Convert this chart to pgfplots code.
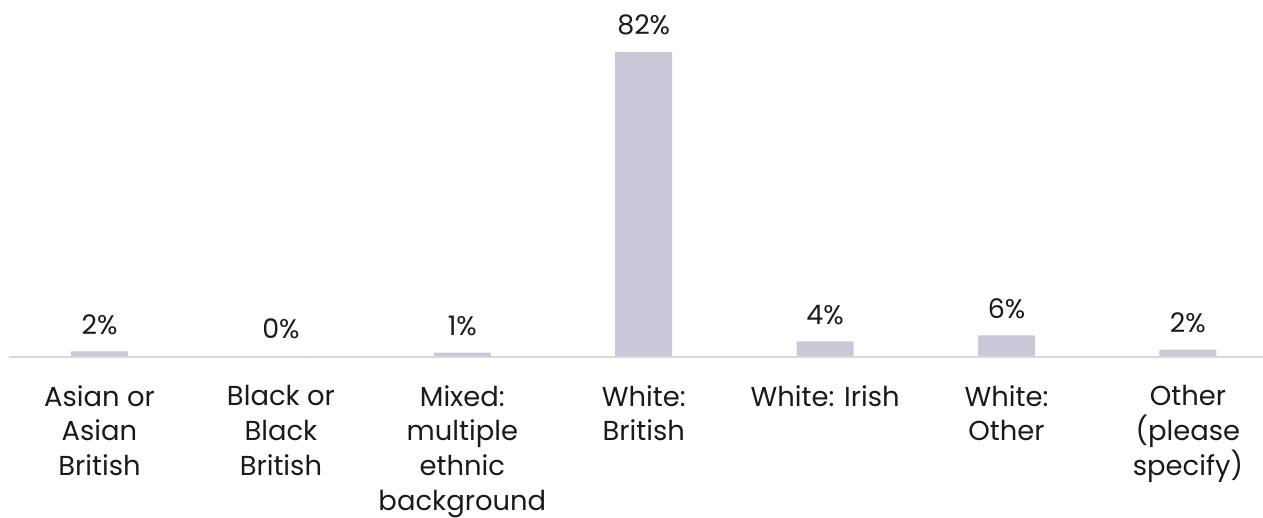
\documentclass[border=0pt]{standalone}
\usepackage{fontspec}
\setmainfont{Poppins}
\usepackage{pgfplots}
\pgfplotsset{compat=1.18}
\definecolor{barcol}{HTML}{C8C8D8}
\definecolor{axcol}{HTML}{D9D9D9}
\definecolor{txt}{HTML}{1A1A1A}
\begin{document}
\begin{tikzpicture}
\begin{axis}[
  scale only axis,
  width=1254.2bp, height=334.8bp,
  xmin=-0.5, xmax=6.414, ymin=0, ymax=90,
  axis lines=none,
  ybar, bar width=57bp,
  xtick=data,
  ytick=\empty,
  clip=false,
  point meta=explicit symbolic,
  nodes near coords,
  every node near coord/.style={font=\fontsize{27}{33}\selectfont, color=txt, anchor=base, inner sep=0pt, yshift=17bp},
]
\addplot[fill=barcol, draw=none] coordinates {
 (0,1.5) [2\%]
 (1,0.3) [0\%]
 (2,1.2) [1\%]
 (3,82) [82\%]
 (4,4.2) [4\%]
 (5,5.8) [6\%]
 (6,2.0) [2\%]
};
\draw[axcol, line width=2bp] (axis cs:-0.5,0) -- (axis cs:6.414,0);
\foreach \i/\lab in {0/{Asian or\\Asian\\British},1/{Black or\\Black\\British},2/{Mixed:\\multiple\\ethnic\\background},3/{White:\\British},4/{White: Irish},5/{White:\\Other},6/{Other\\(please\\specify)}}{
  \edef\tmp{\noexpand\node[anchor=north, align=center, text=txt, font=\noexpand\fontsize{27.5}{35}\noexpand\selectfont, inner sep=0pt] at (axis cs:\i,0) [yshift=-28bp] {\unexpanded\expandafter{\lab}};}
  \tmp
}
\end{axis}
\pgfresetboundingbox
\path (-8.8bp,-161bp) rectangle (1254.2bp,357bp);
\end{tikzpicture}
\end{document}
